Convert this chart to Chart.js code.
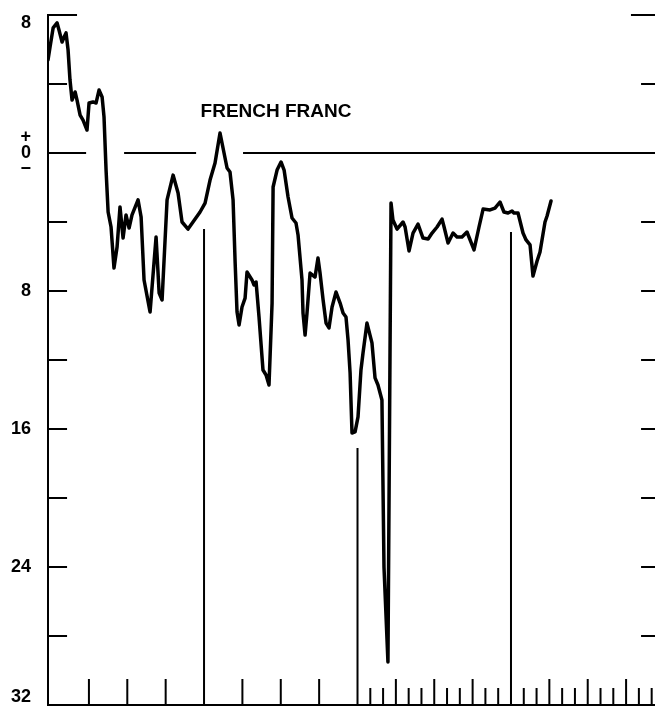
<!DOCTYPE html>
<html>
<head>
<meta charset="utf-8">
<script src="https://cdn.jsdelivr.net/npm/chart.js@4.4.1/dist/chart.umd.min.js"></script>
<style>
  html, body { margin: 0; padding: 0; background: #fff; }
  #wrap { width: 655px; height: 707px; }
</style>
</head>
<body>
<div id="wrap"><canvas id="fx" width="655" height="707"></canvas></div>
<script>
// x = months from the start of the first year, y = % premium (+) / discount (-)
const months = [
  -0.2, -0.04, 0.20, 0.51, 0.66, 0.90, 1.06, 1.21, 1.37, 1.52,
  1.68, 1.92, 2.07, 2.31, 2.54, 2.85, 3.01, 3.32, 3.56, 3.79,
  4.03, 4.18, 4.34, 4.50, 4.73, 4.96, 5.20, 5.43, 5.67, 5.90,
  6.14, 6.37, 6.84, 7.08, 7.31, 7.78, 8.25, 8.49, 8.72, 9.11,
  9.58, 9.97, 10.28, 10.75, 11.69, 12.08, 12.47, 12.86, 13.25, 13.80,
  14.03, 14.27, 14.43, 14.58, 14.74, 14.97, 15.21, 15.36, 15.75, 15.91,
  16.07, 16.30, 16.61, 16.85, 17.08, 17.32, 17.40, 17.71, 18.02, 18.26,
  18.57, 18.88, 19.19, 19.35, 19.66, 19.74, 19.90, 20.05, 20.29, 20.68,
  20.91, 21.07, 21.31, 21.54, 21.77, 22.01, 22.32, 22.64, 22.87, 23.10,
  23.26, 23.42, 23.57, 23.81, 24.04, 24.27, 24.43, 24.74, 25.13, 25.37,
  25.60, 25.91, 26.07, 26.38, 26.62, 26.77, 27.09, 27.56, 27.72, 28.03,
  28.34, 28.73, 29.12, 29.52, 29.83, 30.22, 30.61, 30.77, 31.08, 31.47,
  31.78, 32.17, 32.56, 33.11, 33.50, 33.82, 34.36, 34.75, 35.14, 35.45,
  35.77, 36.08, 36.23, 36.55, 36.94, 37.18, 37.49, 37.72, 38.04, 38.27,
  38.66, 38.82, 39.13
];
const francValues = [
  5.39, 6.14, 7.25, 7.54, 7.13, 6.43, 6.72, 6.96, 5.97, 4.23,
  3.07, 3.54, 3.07, 2.20, 1.91, 1.33, 2.90, 2.96, 2.90, 3.65,
  3.25, 2.09, -0.99, -3.42, -4.29, -6.67, -5.45, -3.13, -4.93, -3.59,
  -4.35, -3.59, -2.72, -3.71, -7.36, -9.22, -4.87, -8.12, -8.52, -2.72,
  -1.28, -2.32, -4.00, -4.41, -3.42, -2.90, -1.57, -0.58, 1.16, -0.87,
  -1.10, -2.72, -6.32, -9.22, -9.97, -8.93, -8.41, -6.90, -7.36, -7.65,
  -7.48, -9.51, -12.58, -12.87, -13.45, -8.70, -1.97, -0.99, -0.52, -0.99,
  -2.55, -3.77, -4.06, -4.75, -7.36, -9.28, -10.55, -9.28, -6.96, -7.19,
  -6.09, -6.96, -8.52, -9.86, -10.14, -8.93, -8.06, -8.70, -9.28, -9.51,
  -10.84, -12.75, -16.23, -16.17, -15.30, -12.58, -11.59, -9.86, -11.01, -13.04,
  -13.45, -14.32, -24.00, -29.51, -2.90, -3.88, -4.41, -4.00, -4.29, -5.68,
  -4.64, -4.12, -4.93, -4.99, -4.64, -4.29, -3.83, -4.29, -5.22, -4.64,
  -4.87, -4.87, -4.58, -5.62, -4.29, -3.25, -3.30, -3.19, -2.84, -3.42,
  -3.48, -3.36, -3.48, -3.48, -4.64, -5.04, -5.33, -7.13, -6.26, -5.74,
  -4.00, -3.65, -2.78
];

// axis ranges and tick marks
const X_MIN = -0.2;
const X_MAX = 47.26;
const Y_MIN = -32;
const Y_MAX = 8;
const yTickValues = [8, 4, -4, -8, -12, -16, -20, -24, -28];
const yLabels = { '8': ['', '8'], '0': ['+', '0', '\u2212'], '-8': '8', '-16': '16', '-24': '24', '-32': ['32', ''] };
const quarterTicks = [3, 6, 9, 15, 18, 21, 27, 30, 33, 39, 42, 45];
const monthTicks = [25, 26, 28, 29, 31, 32, 34, 35, 37, 38, 40, 41, 43, 44, 46, 47];
const yearLines = [12, 24, 36];
const yearLineTops = [-4.41, -17.10, -4.58];
// zero line is broken where the curve rises through it
const zeroLineSegments = [[-0.2, 2.78], [5.75, 11.38], [15.05, 47.26]];

const LEFT_TICK = 1.49, LEFT_TOP_TICK = 2.27;
const RIGHT_TICK = 1.09, RIGHT_TOP_TICK = 1.88;
const QUARTER_TICK = 1.51, MONTH_TICK = 0.99;

const segs = (list) => {
  const out = [];
  list.forEach(([a, b]) => { out.push(a, b, { x: b.x, y: null }); });
  return out;
};

const tickSegments = segs([
  ...yTickValues.map(v => [{ x: X_MIN, y: v }, { x: X_MIN + (v === 8 ? LEFT_TOP_TICK : LEFT_TICK), y: v }]),
  ...yTickValues.map(v => [{ x: X_MAX - (v === 8 ? RIGHT_TOP_TICK : RIGHT_TICK), y: v }, { x: X_MAX, y: v }]),
  ...quarterTicks.map(m => [{ x: m, y: Y_MIN }, { x: m, y: Y_MIN + QUARTER_TICK }]),
  ...monthTicks.map(m => [{ x: m, y: Y_MIN }, { x: m, y: Y_MIN + MONTH_TICK }])
]);
const yearSegments = segs(yearLines.map((m, i) => [{ x: m, y: Y_MIN }, { x: m, y: yearLineTops[i] }]));
const zeroSegments = segs(zeroLineSegments.map(([a, b]) => [{ x: a, y: 0 }, { x: b, y: 0 }]));

const thin = { borderColor: '#000', borderWidth: 2, pointRadius: 0, spanGaps: false, clip: false, borderCapStyle: 'butt' };

const francLabel = {
  id: 'francLabel',
  afterDatasetsDraw(chart, args, opts) {
    const { ctx, scales: { x, y } } = chart;
    ctx.save();
    ctx.font = opts.font;
    ctx.fillStyle = '#000';
    ctx.textAlign = 'center';
    ctx.textBaseline = 'middle';
    ctx.fillText(opts.text, x.getPixelForValue(opts.at[0]), y.getPixelForValue(opts.at[1]));
    ctx.restore();
  }
};

new Chart(document.getElementById('fx'), {
  type: 'line',
  data: {
    datasets: [
      {
        data: months.map((m, i) => ({ x: m, y: francValues[i] })),
        borderColor: '#000', borderWidth: 3.5, pointRadius: 0, tension: 0,
        borderJoinStyle: 'round', borderCapStyle: 'round'
      },
      { ...thin, data: zeroSegments },
      { ...thin, data: yearSegments },
      { ...thin, data: tickSegments }
    ]
  },
  options: {
    responsive: false,
    animation: false,
    events: [],
    layout: { padding: { top: 15, right: 0, bottom: 0, left: 0 } },
    plugins: {
      legend: { display: false },
      tooltip: { enabled: false },
      francLabel: { text: 'FRENCH FRANC', at: [17.63, 2.37], font: 'bold 19px "Liberation Sans", Arial, sans-serif' }
    },
    scales: {
      x: {
        type: 'linear', min: X_MIN, max: X_MAX,
        ticks: { display: false },
        grid: { display: false, drawTicks: false },
        border: { display: true, color: '#000', width: 2 },
        afterFit: s => { s.height = 2; s.paddingLeft = 0; s.paddingRight = 0; }
      },
      y: {
        min: Y_MIN, max: Y_MAX,
        ticks: {
          stepSize: 4, autoSkip: false, padding: 17, color: '#000',
          font: { family: '"Liberation Sans", Arial, sans-serif', size: 18, weight: 'bold', lineHeight: 0.9 },
          callback: v => yLabels[String(v)] ?? ''
        },
        grid: { display: false, drawTicks: false },
        border: { display: true, color: '#000', width: 2 },
        afterFit: s => { s.width = 48; s.paddingTop = 0; s.paddingBottom = 0; }
      }
    }
  },
  plugins: [francLabel]
});
</script>
</body>
</html>
